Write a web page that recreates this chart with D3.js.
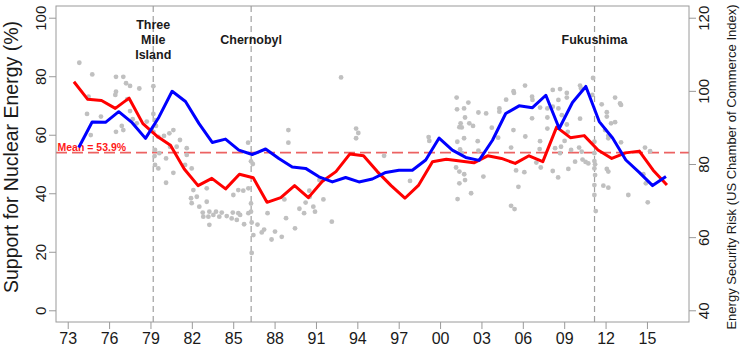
<!DOCTYPE html>
<html><head><meta charset="utf-8">
<script src="https://cdn.jsdelivr.net/npm/d3@7"></script>
<style>
body{margin:0;background:#fff}
svg{display:block}
text{font-family:"Liberation Sans",Arial,Helvetica,sans-serif}
</style>
</head><body>
<svg id="c" width="740" height="346"></svg>
<script>
// ---- data ----
const xTicks = [73,76,79,82,85,88,91,94,97,100,103,106,109,112,115];
const xTickLabels = ["73","76","79","82","85","88","91","94","97","00","03","06","09","12","15"];
const leftTicks = [0,20,40,60,80,100];
const rightTicks = [40,60,80,100,120];

// Support for nuclear energy, annual (left axis, %)
const supportYears = [73.45,74.45,75.45,76.45,77.45,78.45,79.45,80.45,81.45,82.45,83.45,84.45,85.45,86.45,87.45,88.45,89.45,90.45,91.45,92.45,93.45,94.45,95.45,96.45,97.45,98.45,99.45,100.45,101.45,102.45,103.45,104.45,105.45,106.45,107.45,108.45,109.45,110.45,111.45,112.45,113.45,114.45,115.45,116.45];
const supportValues = [78.1,72.1,71.7,69.0,72.5,63.8,59.6,56.4,48.3,42.6,45.1,41.5,46.5,45.3,36.9,38.5,42.6,38.5,44.0,47.4,53.4,52.8,47.4,42.6,38.3,42.8,50.8,51.6,51.0,50.4,52.8,51.9,50.2,52.8,50.8,62.6,59.0,59.7,54.8,51.9,53.8,54.4,47.9,42.8];

// Energy security risk index (right axis)
const riskYears = [73.80,74.77,75.74,76.70,77.67,78.64,79.61,80.57,81.54,82.51,83.48,84.44,85.41,86.38,87.35,88.31,89.28,90.25,91.22,92.19,93.15,94.12,95.09,96.06,97.02,97.99,98.96,99.93,100.89,101.86,102.83,103.80,104.76,105.73,106.70,107.67,108.64,109.60,110.57,111.54,112.51,113.47,114.44,115.41,116.38];
const riskValues = [84.5,91.5,91.4,94.3,91.3,87.0,92.8,99.9,97.1,91.1,85.9,86.8,83.8,82.6,84.1,81.5,79.2,78.8,76.5,75.1,76.3,75.1,75.9,77.7,78.3,78.3,81.1,87.1,83.8,81.8,81.0,86.5,93.8,95.9,95.4,98.8,89.7,96.8,101.2,91.6,87.1,81.1,77.7,74.1,76.6];

// Individual polls (left axis, %)
const pollYears = [73.84,74.78,76.50,77.03,77.23,77.52,78.19,79.21,74.51,74.40,75.41,76.50,76.45,77.32,77.52,77.71,78.00,76.92,77.03,76.50,74.67,78.73,79.21,79.33,79.40,79.21,79.57,79.98,80.37,80.66,79.33,79.30,79.64,80.42,80.13,79.33,79.57,80.66,80.13,80.90,81.14,81.63,81.63,81.51,81.99,82.11,81.94,81.99,82.36,82.54,82.79,82.83,83.27,83.20,83.56,84.17,84.53,84.97,84.89,85.37,85.01,85.37,83.08,83.08,83.27,83.75,83.99,85.79,85.50,85.26,
86.08,86.29,86.42,85.73,86.10,86.29,86.29,86.34,86.10,86.46,86.34,86.76,87.07,87.24,87.49,87.78,88.03,88.52,88.71,88.83,89.00,89.00,89.48,89.80,90.14,90.25,90.52,90.55,90.81,90.93,91.25,91.54,92.15,92.82,93.91,94.07,93.91,95.94,97.82,99.17,99.22,
101.20,101.23,101.74,102.05,101.49,101.40,101.57,101.81,102.12,102.39,101.74,101.25,101.45,101.57,101.16,101.40,101.75,101.81,101.40,101.27,102.25,102.78,103.34,102.73,102.78,103.14,103.75,104.30,104.30,104.79,105.33,105.36,106.16,106.67,106.70,105.32,104.21,105.15,105.51,106.11,105.68,105.15,105.40,106.18,106.67,107.25,107.78,107.78,107.78,107.25,107.22,106.98,107.30,108.17,108.17,108.58,108.58,108.34,108.17,108.56,
108.70,109.19,109.19,110.15,110.22,111.09,111.04,108.83,110.15,109.19,109.26,109.03,108.77,109.50,110.08,109.79,110.27,110.33,110.55,110.75,111.19,111.19,111.19,111.24,111.19,111.24,111.19,111.19,111.29,109.30,111.72,112.09,112.09,112.40,112.69,112.69,113.05,113.12,111.96,112.20,112.20,113.12,112.09,112.20,111.84,112.20,113.65,114.86,115.23,114.74,114.92,115.06,108.70];
const pollValues = [84.6,80.6,79.8,79.8,77.6,76.7,75.8,76.6,73.0,67.1,66.2,74.7,73.6,72.2,68.1,65.3,63.9,63.0,61.6,61.0,59.9,64.5,67.1,65.0,63.0,61.0,59.3,59.6,60.5,61.6,54.8,52.7,53.7,55.9,51.9,49.7,48.5,47.0,43.6,55.9,58.2,55.4,53.1,49.7,48.5,41.1,38.3,36.6,38.8,35.4,33.4,32.0,33.7,32.0,32.6,33.4,32.2,33.4,31.4,33.2,39.4,41.1,37.1,41.7,29.2,33.7,32.0,29.4,32.6,30.9,
57.3,50.9,50.0,40.9,41.7,36.5,33.7,30.0,33.2,25.7,19.6,29.3,26.6,27.6,33.2,24.2,26.9,25.1,37.9,31.5,61.6,57.3,28.0,34.7,33.2,36.8,40.9,38.8,35.4,33.7,44.5,37.9,30.3,79.6,62.1,60.6,58.8,52.8,44.2,59.2,57.9,
72.7,68.7,69.0,71.0,63.9,62.6,62.5,65.9,63.9,63.0,58.8,57.6,55.0,53.8,48.8,47.4,46.5,44.5,43.4,38.0,40.0,67.6,67.3,57.8,54.6,45.7,62.4,69.0,67.9,72.0,74.9,74.3,76.8,73.0,71.9,61.6,59.0,55.6,47.8,47.2,42.2,35.7,34.6,59.4,65.6,69.3,69.0,65.9,62.1,57.8,55.1,50.5,48.8,75.3,69.6,71.9,69.0,55.4,47.6,45.4,
75.6,74.3,72.7,76.8,75.8,79.4,73.6,66.7,65.5,63.5,61.0,57.9,55.9,54.8,55.6,50.8,54.2,51.5,50.7,50.2,57.6,53.7,51.0,49.9,48.5,46.2,42.8,39.4,33.9,48.3,70.4,67.7,66.2,63.9,64.3,72.7,70.7,70.2,61.6,59.7,58.8,57.4,48.3,47.4,42.6,41.9,39.4,55.6,54.4,46.5,43.4,36.9,53.7];

const meanSupport = 53.9;
const events = [
  {year: 79.2, lines: ["Three","Mile","Island"]},
  {year: 86.3, lines: ["Chernobyl"]},
  {year: 111.2, lines: ["Fukushima"]}
];

// ---- drawing ----
const svg = d3.select("#c");
const L = 56, R = 689, T = 6, B = 322;
const x = d3.scaleLinear().domain([72.15, 118.05]).range([L, R]);
const yL = d3.scaleLinear().domain([-4, 104]).range([B, T]);
const yR = d3.scaleLinear().domain([36.8, 123.2]).range([B, T]);
const axisCol = "#9a9a9a", textCol = "#1a1a1a";

// event lines
svg.append("g").selectAll("line").data(events).join("line")
  .attr("x1", d => x(d.year)).attr("x2", d => x(d.year))
  .attr("y1", T).attr("y2", B)
  .attr("stroke", "#a0a0a0").attr("stroke-width", 1.2).attr("stroke-dasharray", "6,4");

// mean line
svg.append("line")
  .attr("x1", L).attr("x2", R).attr("y1", yL(meanSupport)).attr("y2", yL(meanSupport))
  .attr("stroke", "#ec6262").attr("stroke-width", 1.8).attr("stroke-dasharray", "11,5");

// poll points
const pts = pollYears.map((yr, i) => ({yr, v: pollValues[i]}));
svg.append("g").selectAll("circle").data(pts).join("circle")
  .attr("cx", d => x(d.yr)).attr("cy", d => yL(d.v)).attr("r", 2.4)
  .attr("fill", "#c0c0c0");

// mean label
svg.append("text").attr("x", L + 1.5).attr("y", yL(meanSupport) - 2)
  .attr("font-size", 10.5).attr("font-weight", "bold").attr("fill", "#ff1a1a")
  .text("Mean = " + meanSupport + "%");

// support line (red)
const sup = supportYears.map((yr, i) => [yr, supportValues[i]]);
svg.append("path").datum(sup)
  .attr("d", d3.line().x(d => x(d[0])).y(d => yL(d[1])))
  .attr("fill", "none").attr("stroke", "#ff0000").attr("stroke-width", 3).attr("stroke-linejoin", "round");

// risk line (blue)
const risk = riskYears.map((yr, i) => [yr, riskValues[i]]);
svg.append("path").datum(risk)
  .attr("d", d3.line().x(d => x(d[0])).y(d => yR(d[1])))
  .attr("fill", "none").attr("stroke", "#0000ff").attr("stroke-width", 3).attr("stroke-linejoin", "round");

// event labels
events.forEach(ev => {
  const n = ev.lines.length;
  ev.lines.forEach((s, i) => {
    svg.append("text").attr("x", x(ev.year)).attr("y", 43.5 - (n === 3 ? 15 : 0) + i * 15)
      .attr("text-anchor", "middle").attr("font-size", 12.5).attr("font-weight", "bold")
      .attr("fill", textCol).text(s);
  });
});

// box
svg.append("rect").attr("x", L).attr("y", T).attr("width", R - L).attr("height", B - T)
  .attr("fill", "none").attr("stroke", axisCol).attr("stroke-width", 1);

// axes
function styleAxis(g) {
  g.select(".domain").remove();
  g.selectAll(".tick line").attr("stroke", axisCol);
  g.selectAll(".tick text").attr("fill", textCol).attr("font-family", "Liberation Sans, Arial, sans-serif");
}
const gL = svg.append("g").attr("transform", `translate(${L},0)`)
  .call(d3.axisLeft(yL).tickValues(leftTicks).tickSize(7).tickFormat(d3.format("d")));
styleAxis(gL);
gL.selectAll(".tick text").attr("font-size", 15).attr("text-anchor", "middle")
  .attr("x", null).attr("dy", "0.35em").attr("transform", "translate(-15,0) rotate(-90)");

const gR = svg.append("g").attr("transform", `translate(${R},0)`)
  .call(d3.axisRight(yR).tickValues(rightTicks).tickSize(7).tickFormat(d3.format("d")));
styleAxis(gR);
gR.selectAll(".tick text").attr("font-size", 15).attr("text-anchor", "middle")
  .attr("x", null).attr("dy", "0.35em").attr("transform", "translate(15,0) rotate(-90)");

const gB = svg.append("g").attr("transform", `translate(0,${B})`)
  .call(d3.axisBottom(x).tickValues(xTicks).tickSize(7).tickPadding(4)
    .tickFormat((d, i) => xTickLabels[i]));
styleAxis(gB);
gB.selectAll(".tick text").attr("font-size", 16);

// axis titles
svg.append("text").attr("transform", "translate(17.5,157) rotate(-90)")
  .attr("text-anchor", "middle").attr("font-size", 19.5).attr("fill", textCol)
  .text("Support for Nuclear Energy (%)");
svg.append("text").attr("transform", "translate(736,167) rotate(-90)")
  .attr("text-anchor", "middle").attr("font-size", 13).attr("fill", textCol)
  .text("Energy Security Risk (US Chamber of Commerce Index)");
</script>
</body></html>
